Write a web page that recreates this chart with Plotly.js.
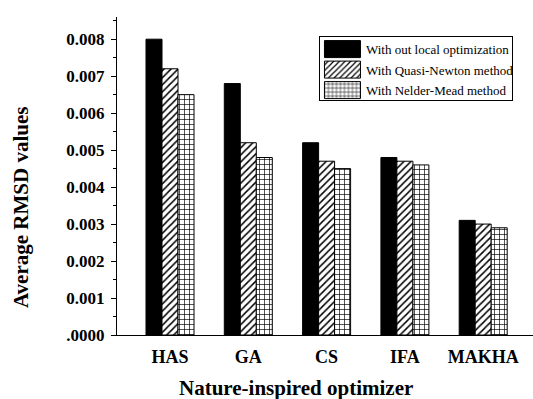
<!DOCTYPE html>
<html>
<head>
<meta charset="utf-8">
<script src="https://cdn.plot.ly/plotly-3.0.1.min.js"></script>
<style>
  html, body { margin: 0; padding: 0; background: #fff; }
  #chart { width: 533px; height: 399px; }
</style>
</head>
<body>
<div id="chart"></div>
<script>
// Optimizers compared
const optimizers = ['HAS', 'GA', 'CS', 'IFA', 'MAKHA'];

// Average RMSD for each local-optimization variant
const withoutLocal = [0.0080, 0.0068, 0.0052, 0.0048, 0.0031];
const quasiNewton  = [0.0072, 0.0052, 0.0047, 0.0047, 0.0030];
const nelderMead   = [0.0065, 0.0048, 0.0045, 0.0046, 0.0029];

// Series names
const seriesNames = [
  'With out local optimization',
  'With Quasi-Newton method',
  'With Nelder-Mead method'
];

// Y-axis tick values and their labels
const yTickVals = [0, 0.001, 0.002, 0.003, 0.004, 0.005, 0.006, 0.007, 0.008];
const yTickText = ['.0000', '0.001', '0.002', '0.003', '0.004', '0.005', '0.006', '0.007', '0.008'];

const serif = '"Liberation Serif", "Times New Roman", serif';
const outline = { color: '#000', width: 1 };

const traces = [
  {
    type: 'bar', name: seriesNames[0], x: optimizers, y: withoutLocal,
    marker: { color: '#000', line: outline }
  },
  {
    type: 'bar', name: seriesNames[1], x: optimizers, y: quasiNewton,
    marker: {
      color: '#fff', line: outline,
      pattern: { shape: '/', fgcolor: '#000', bgcolor: '#fff', size: 5, solidity: 0.3, fillmode: 'replace' }
    }
  },
  {
    type: 'bar', name: seriesNames[2], x: optimizers, y: nelderMead,
    marker: {
      color: '#fff', line: outline,
      pattern: { shape: '+', fgcolor: '#000', bgcolor: '#fff', size: 5, solidity: 0.25, fillmode: 'replace' }
    }
  }
];

const layout = {
  width: 533, height: 399,
  margin: { l: 117, r: 0, t: 17, b: 64 },
  paper_bgcolor: '#fff', plot_bgcolor: '#fff',
  font: { family: serif, color: '#000' },
  barmode: 'group',
  bargap: 0.387,
  bargroupgap: 0,
  showlegend: true,
  legend: {
    x: 0.4855, y: 0.94, xanchor: 'left', yanchor: 'top',
    bgcolor: '#fff', bordercolor: '#000', borderwidth: 1,
    font: { family: serif, size: 13, color: '#000' },
    itemwidth: 37,
    traceorder: 'normal'
  },
  xaxis: {
    type: 'category',
    range: [-0.677, 4.636],
    showline: true, linecolor: '#000', linewidth: 1,
    ticks: '', showgrid: false, zeroline: false,
    tickfont: { family: serif, size: 18, color: '#000', weight: 'bold' },
    ticklabelstandoff: 5
  },
  yaxis: {
    range: [0, 0.0086],
    showline: true, linecolor: '#000', linewidth: 1,
    showgrid: false, zeroline: false,
    ticks: 'outside', ticklen: 5, tickcolor: '#000', tickwidth: 1,
    tickmode: 'array', tickvals: yTickVals, ticktext: yTickText,
    minor: { tickmode: 'linear', tick0: 0, dtick: 0.0005, ticks: 'outside', ticklen: 3, tickcolor: '#000', showgrid: false },
    tickfont: { family: serif, size: 17, color: '#000', weight: 'bold' },
    ticklabelstandoff: 3
  },
  annotations: [
    {
      text: '<b>Average RMSD values</b>', textangle: -90,
      xref: 'paper', yref: 'paper', x: -0.2308, y: 0.4025,
      xanchor: 'center', yanchor: 'middle', showarrow: false,
      font: { family: serif, size: 21, color: '#000' }
    },
    {
      text: '<b>Nature-inspired optimizer</b>',
      xref: 'paper', yref: 'paper', x: 0.43, y: -0.1667,
      xanchor: 'center', yanchor: 'middle', showarrow: false,
      font: { family: serif, size: 21, color: '#000' }
    }
  ]
};

// Compact legend: wide rectangular swatches, tighter rows and a snug frame
function styleLegend(gd) {
  const legend = gd.querySelector('.legend');
  if (!legend) return;
  legend.querySelectorAll('.legendpoints path').forEach(function (p) {
    p.setAttribute('d', 'M18,8.5H-18V-8.5H18Z');
  });
  legend.querySelectorAll('g.traces').forEach(function (g, i) {
    g.setAttribute('transform', 'translate(0,' + (13 + i * 20.5) + ')');
  });
  const bg = legend.querySelector('rect.bg');
  if (bg) {
    bg.setAttribute('width', 193);
    bg.setAttribute('height', 64);
  }
}

const gd = document.getElementById('chart');
Plotly.newPlot(gd, traces, layout, { displayModeBar: false, staticPlot: true }).then(function () {
  styleLegend(gd);
  gd.on('plotly_afterplot', function () { styleLegend(gd); });
  setTimeout(function () { styleLegend(gd); }, 50);
  setTimeout(function () { styleLegend(gd); }, 300);
});
</script>
</body>
</html>
